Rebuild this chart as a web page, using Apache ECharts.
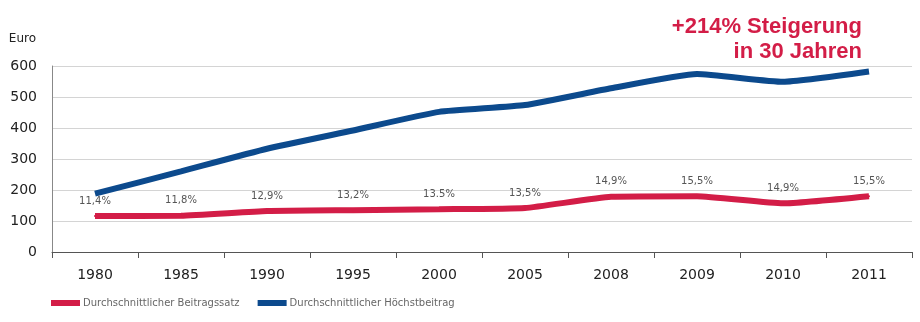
<!DOCTYPE html>
<html>
<head>
<meta charset="utf-8">
<script src="https://cdn.jsdelivr.net/npm/echarts@6/dist/echarts.min.js"></script>
<style>
html,body{margin:0;padding:0;background:#fff;}
#chart{width:920px;height:322px;}
</style>
</head>
<body>
<div id="chart"></div>
<script>
// Data
var years = ['1980', '1985', '1990', '1995', '2000', '2005', '2008', '2009', '2010', '2011'];
var hoechstbeitrag = [188, 260, 333, 392, 452, 474, 528, 574, 549, 582];
var beitragssatzEuro = [116, 117, 132, 135, 138, 142, 178, 180, 157, 180];
var beitragssatzLabels = ['11,4%', '11,8%', '12,9%', '13,2%', '13.5%', '13,5%', '14,9%', '15,5%', '14,9%', '15,5%'];
var yTicks = [0, 100, 200, 300, 400, 500, 600];
var seriesNames = ['Durchschnittlicher Beitragssatz', 'Durchschnittlicher Höchstbeitrag'];
var headline = '+214% Steigerung\nin 30 Jahren';
var unitName = 'Euro';

var RED = '#d31d47';
var BLUE = '#0c4a8d';
var FONT = '"DejaVu Sans", "Liberation Sans", Arial, sans-serif';

var chart = echarts.init(document.getElementById('chart'), null, {renderer: 'canvas'});
chart.setOption({
  animation: false,
  backgroundColor: '#fff',
  title: {
    text: headline,
    left: 862,
    top: 14,
    padding: 0,
    textAlign: 'right',
    textStyle: {
      color: RED,
      fontFamily: '"Liberation Sans", Arial, sans-serif',
      fontWeight: 'bold',
      fontSize: 22,
      lineHeight: 25,
      align: 'right'
    }
  },
  legend: {
    left: 51,
    top: 298,
    padding: 0,
    icon: 'rect',
    itemWidth: 29,
    itemHeight: 6,
    itemGap: 18,
    data: seriesNames,
    textStyle: {color: '#666', fontSize: 10, fontFamily: FONT, padding: [0, 0, 0, -2]}
  },
  grid: {left: 52, right: 8, top: 66, bottom: 70, containLabel: false},
  xAxis: {
    type: 'category',
    data: years,
    boundaryGap: true,
    axisLine: {show: true, lineStyle: {color: '#555', width: 1}},
    axisTick: {show: true, length: 6, lineStyle: {color: '#555'}},
    axisLabel: {color: '#222', fontSize: 14, fontFamily: FONT, margin: 16}
  },
  yAxis: {
    type: 'value',
    min: yTicks[0],
    max: yTicks[yTicks.length - 1],
    interval: 100,
    name: unitName,
    nameLocation: 'end',
    nameGap: 21,
    nameTextStyle: {color: '#222', fontSize: 12, fontFamily: FONT, align: 'right', padding: [0, 16, 0, 0]},
    axisLine: {show: true, lineStyle: {color: '#888', width: 1}},
    axisTick: {show: false},
    axisLabel: {color: '#222', fontSize: 14, fontFamily: FONT, margin: 15},
    splitLine: {show: true, lineStyle: {color: '#d4d4d4', width: 1}}
  },
  series: [
    {
      name: seriesNames[0],
      type: 'line',
      data: beitragssatzEuro,
      smooth: 0.15,
      symbol: 'circle',
      symbolSize: 2,
      showSymbol: true,
      itemStyle: {color: RED},
      lineStyle: {color: RED, width: 6},
      label: {
        show: true,
        position: 'top',
        distance: 9,
        color: '#555',
        fontSize: 10,
        fontFamily: FONT,
        formatter: function (p) { return beitragssatzLabels[p.dataIndex]; }
      },
      z: 3
    },
    {
      name: seriesNames[1],
      type: 'line',
      data: hoechstbeitrag,
      smooth: 0.15,
      showSymbol: false,
      symbol: 'none',
      itemStyle: {color: BLUE},
      lineStyle: {color: BLUE, width: 6},
      z: 3
    }
  ]
});
</script>
</body>
</html>
